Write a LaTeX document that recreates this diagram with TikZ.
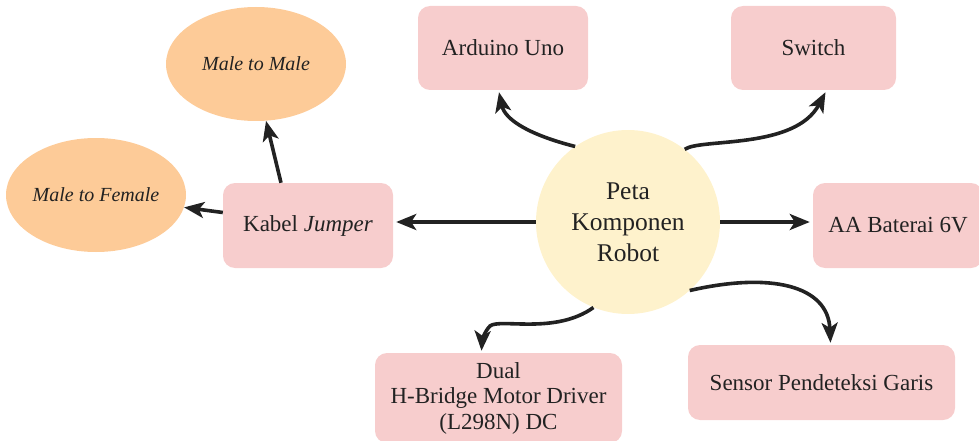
\documentclass[tikz,border=0pt]{standalone}
\usepackage{fontspec}
\setmainfont{Liberation Serif}
\usetikzlibrary{arrows.meta,calc,shapes.geometric}
\definecolor{boxpink}{HTML}{F7CDCD}
\definecolor{elor}{HTML}{FDCB98}
\definecolor{cyel}{HTML}{FEF2CC}
\definecolor{ink}{HTML}{222222}
\tikzset{
  pbox/.style={fill=boxpink, rounded corners=12pt, inner sep=0pt, text=ink, font=\fontsize{23}{25.5}\selectfont, align=center},
  oell/.style={ellipse, fill=elor, inner sep=0pt, minimum width=180pt, minimum height=114pt, text=ink, font=\fontsize{20}{22}\selectfont\itshape},
  conn/.style={line width=3.6pt, draw=ink, -{Stealth[length=20pt,width=16pt,inset=5pt]}},
}
\begin{document}
\begin{tikzpicture}[x=1pt,y=-1pt]
\useasboundingbox (0,0) rectangle (979,441);
\node[circle, fill=cyel, minimum size=184pt, inner sep=0pt, text=ink, align=center, font=\fontsize{25.5}{31}\selectfont] (c) at (628,222) {Peta\\Komponen\\Robot};
\node[pbox, minimum width=170pt, minimum height=84pt] (ard) at (503,48) {Arduino Uno};
\node[pbox, minimum width=165pt, minimum height=84pt] (sw) at (813.5,48) {Switch};
\node[pbox, minimum width=170pt, minimum height=85pt] (aa) at (898,225.5) {AA Baterai 6V};
\node[pbox, minimum width=267pt, minimum height=75pt] (sen) at (821.5,382.5) {Sensor Pendeteksi Garis};
\node[pbox, minimum width=247pt, minimum height=90pt] (dual) at (498.5,398) {Dual\\H-Bridge Motor Driver\\(L298N) DC};
\node[pbox, minimum width=170pt, minimum height=85pt] (kab) at (308,225.5) {Kabel \textit{Jumper}};
\node[oell] (mm) at (256,64) {Male to Male};
\node[oell] (mf) at (96,195) {Male to Female};
\draw[conn] (c.125) .. controls (530,135) and (505,120) .. ($(ard.south)+(-4,2)$);
\draw[conn] (c.52) .. controls (700,138) and (795,150) .. ($(sw.south)+(12,2)$);
\draw[conn] (c.0) -- ($(aa.west)+(-3,-3.5)$);
\draw[conn] (c.180) -- ($(kab.east)+(3,-3.5)$);
\draw[conn] (c.-48) .. controls (770,272) and (828,285) .. ($(sen.north)+(9,-2)$);
\draw[conn] (c.-112) .. controls (555,335) and (500,318) .. (490,326) .. controls (484,332) and (482,342) .. ($(dual.north)+(-17,-2)$);
\draw[conn] ($(kab.west)+(0,-13)$) -- (mf.-8);
\draw[conn] ($(kab.north)+(-27,0)$) -- (mm.-80);
\end{tikzpicture}
\end{document}
